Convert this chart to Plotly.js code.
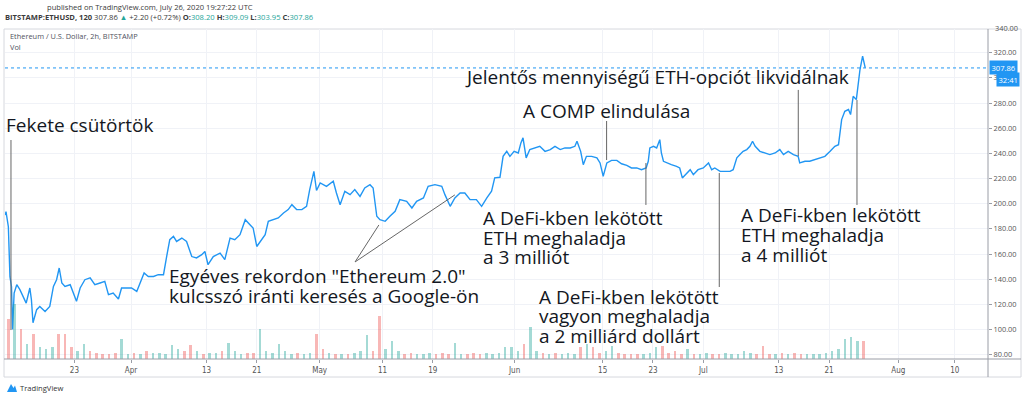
<!DOCTYPE html>
<html><head><meta charset="utf-8">
<script src="https://cdn.plot.ly/plotly-3.0.1.min.js"></script>
<style>html,body{margin:0;padding:0;background:#fff;overflow:hidden}#chart{width:1024px;height:398px}</style>
</head><body><div id="chart"></div>
<script>
// ---------- DATA ----------
const priceTime = [
'2020-03-12 00:00','2020-03-12 03:00','2020-03-12 12:00','2020-03-12 18:00','2020-03-13 00:00','2020-03-13 04:00','2020-03-13 10:00','2020-03-13 20:00',
'2020-03-14 08:00','2020-03-14 20:00','2020-03-15 08:00','2020-03-15 22:00','2020-03-16 04:00','2020-03-16 10:00','2020-03-17 00:00','2020-03-17 12:00',
'2020-03-18 08:00','2020-03-19 02:00','2020-03-19 16:00','2020-03-20 04:00','2020-03-20 14:00','2020-03-21 00:00','2020-03-21 12:00','2020-03-22 08:00',
'2020-03-22 20:00','2020-03-23 08:00','2020-03-23 22:00','2020-03-24 16:00','2020-03-25 12:00','2020-03-26 06:00','2020-03-27 02:00','2020-03-27 20:00',
'2020-03-28 10:00','2020-03-29 04:00','2020-03-30 00:00','2020-03-30 12:00','2020-03-31 08:00','2020-04-01 02:00','2020-04-01 22:00','2020-04-02 10:00',
'2020-04-03 02:00','2020-04-03 18:00','2020-04-04 14:00','2020-04-05 08:00','2020-04-06 04:00','2020-04-06 16:00','2020-04-07 04:00','2020-04-07 18:00',
'2020-04-08 06:00','2020-04-09 02:00','2020-04-09 20:00','2020-04-10 16:00','2020-04-11 10:00','2020-04-12 06:00','2020-04-12 18:00','2020-04-13 06:00',
'2020-04-14 02:00','2020-04-15 04:00','2020-04-15 22:00','2020-04-16 18:00','2020-04-17 12:00','2020-04-18 08:00','2020-04-19 04:00','2020-04-19 22:00',
'2020-04-20 10:00','2020-04-21 00:00','2020-04-21 18:00','2020-04-22 08:00','2020-04-22 20:00','2020-04-23 14:00','2020-04-24 10:00','2020-04-25 06:00',
'2020-04-26 00:00','2020-04-26 14:00','2020-04-27 08:00','2020-04-28 04:00','2020-04-28 22:00','2020-04-29 10:00','2020-04-30 02:00','2020-04-30 12:00',
'2020-05-01 02:00','2020-05-02 02:00','2020-05-03 04:00','2020-05-03 16:00','2020-05-04 06:00','2020-05-05 00:00','2020-05-05 20:00','2020-05-06 14:00',
'2020-05-07 10:00','2020-05-08 04:00','2020-05-09 00:00','2020-05-09 12:00','2020-05-10 02:00','2020-05-10 14:00','2020-05-11 10:00','2020-05-12 04:00',
'2020-05-13 00:00','2020-05-13 18:00','2020-05-14 20:00','2020-05-15 16:00','2020-05-16 10:00','2020-05-17 12:00','2020-05-18 06:00','2020-05-19 08:00',
'2020-05-20 10:00','2020-05-20 22:00','2020-05-21 18:00','2020-05-22 12:00','2020-05-23 08:00','2020-05-24 02:00','2020-05-24 22:00','2020-05-25 22:00',
'2020-05-26 18:00','2020-05-27 14:00','2020-05-28 08:00','2020-05-28 20:00','2020-05-29 16:00','2020-05-30 04:00','2020-05-30 18:00','2020-05-31 06:00',
'2020-05-31 22:00','2020-06-01 14:00','2020-06-02 00:00','2020-06-02 08:00','2020-06-02 20:00','2020-06-03 10:00','2020-06-04 06:00','2020-06-05 00:00',
'2020-06-05 20:00','2020-06-06 16:00','2020-06-07 10:00','2020-06-08 06:00','2020-06-09 00:00','2020-06-09 20:00','2020-06-10 14:00','2020-06-10 22:00',
'2020-06-11 12:00','2020-06-11 22:00','2020-06-12 10:00','2020-06-13 06:00','2020-06-14 02:00','2020-06-14 14:00','2020-06-15 02:00','2020-06-15 16:00',
'2020-06-16 10:00','2020-06-17 06:00','2020-06-18 00:00','2020-06-18 20:00','2020-06-19 14:00','2020-06-20 10:00','2020-06-21 04:00','2020-06-21 22:00',
'2020-06-22 06:00','2020-06-22 12:00','2020-06-23 02:00','2020-06-23 14:00','2020-06-24 02:00','2020-06-24 08:00','2020-06-24 16:00','2020-06-25 04:00',
'2020-06-25 22:00','2020-06-26 18:00','2020-06-27 06:00','2020-06-27 16:00','2020-06-28 08:00','2020-06-28 22:00','2020-06-29 10:00','2020-06-30 04:00',
'2020-07-01 00:00','2020-07-01 20:00','2020-07-02 08:00','2020-07-02 20:00','2020-07-03 16:00','2020-07-04 10:00','2020-07-05 06:00','2020-07-05 18:00',
'2020-07-06 08:00','2020-07-06 20:00','2020-07-07 08:00','2020-07-07 22:00','2020-07-08 10:00','2020-07-08 20:00','2020-07-09 06:00','2020-07-10 00:00',
'2020-07-10 20:00','2020-07-11 14:00','2020-07-12 10:00','2020-07-13 04:00','2020-07-13 18:00','2020-07-14 12:00','2020-07-15 08:00','2020-07-16 02:00',
'2020-07-16 08:00','2020-07-17 04:00','2020-07-17 22:00','2020-07-18 18:00','2020-07-19 14:00','2020-07-20 08:00','2020-07-21 04:00','2020-07-21 22:00',
'2020-07-22 12:00','2020-07-22 18:00','2020-07-23 00:00','2020-07-23 12:00','2020-07-24 02:00','2020-07-24 10:00','2020-07-24 20:00','2020-07-25 08:00',
'2020-07-25 16:00','2020-07-25 22:00','2020-07-26 08:00','2020-07-26 16:00','2020-07-26 18:00'];
const priceValue = [
191,193.7,181.7,142,134,100,129,135.6,
131.7,126,121,133,123.7,105.4,115.8,118.4,
114.4,118.4,134.3,139.6,148.9,137,134.3,135.6,
129,122.4,133,139.6,141,135.6,137,138.3,
127.7,129,124.3,133,133,133,130.3,137,
145,142.2,142.2,143.6,143.6,158,171.4,174,
170,172.7,170,158,156.9,159.5,162,151.5,
158,160.8,155.5,172.7,171.4,175.4,187.3,183.3,
180.7,166,171.4,175.4,186,187.3,188.7,192.6,
195.3,199.2,195.3,195.3,197.9,211.2,225.7,210.5,
216.5,213.8,217.8,208.5,199.2,209.8,207.2,211.2,
205.8,212.5,215.1,212.5,190,187.3,186,190,
194,203.2,201.9,196.6,201.9,204.6,213.8,215.1,
213.8,207.2,197.9,204.6,208.5,208.5,203.2,203.2,
197.9,204.6,210,220.5,221,237.6,241.6,237.6,
241.6,240.3,248.3,252.3,236.4,243,244.3,245.6,
241.6,243,245.6,243,244.3,244.3,245.6,249.6,
241.6,231,237.6,237.6,236.4,232.4,221.8,232.4,
234.4,234.4,231.7,230.4,228.4,228.4,227,228.4,
233.7,244.3,245.6,244.3,250.9,240.3,233.7,232.4,
231,229.7,228.4,220.5,224.4,227,223.1,227,
228.4,232.4,227,228.4,225.7,225.7,225.7,227,
236.4,239,241.6,243,245.6,249.6,245.6,241.6,
240.3,239,240.3,243,239,241.6,239,237.6,
232.4,233.7,233.7,235,236.4,237.6,241.6,245.6,
246.9,256.2,266.8,273.4,274.8,270.8,285.3,282.7,
298.6,306.6,317.2,310.5,307.86];
// daily volume (thousand ETH), starting 2020-03-12
const volumeStart = '2020-03-12';
const volumeValue = [
40,55,30,15,25,12,10,12,25,25,12,8,15,8,6,5,5,6,20,5,
6,5,8,6,6,5,14,10,8,14,8,5,6,6,8,16,8,5,6,6,
30,8,6,15,8,5,6,5,6,25,10,6,5,5,5,6,8,24,8,43,
10,18,8,5,6,5,5,6,5,6,5,16,5,5,6,5,6,5,6,12,
12,8,15,32,8,6,5,6,5,6,5,12,15,12,6,8,13,6,5,5,
5,5,6,12,13,6,8,5,10,5,5,6,5,5,6,5,5,8,6,5,
13,5,5,6,5,6,5,5,5,5,6,8,10,20,22,18,18];
const tickDates = ['2020-03-23','2020-04-01','2020-04-13','2020-04-21','2020-05-01','2020-05-11','2020-05-19','2020-06-01','2020-06-15','2020-06-23','2020-07-01','2020-07-13','2020-07-21','2020-08-01','2020-08-10'];
const tickText = ['23','Apr','13','21','May','11','19','Jun','15','23','Jul','13','21','Aug','10'];
const priceTicks = [80,100,120,140,160,180,200,220,240,260,280,300,320];
const lastPrice = 307.86;
const countdown = '32:41';
const headerPublished = 'published on TradingView.com, July 26, 2020 19:27:22 UTC';
const symbolTitle = 'Ethereum / U.S. Dollar, 2h, BITSTAMP';
const noteBlackThursday = ['Fekete csütörtök'];
const noteEth2 = ['Egyéves rekordon "Ethereum 2.0"', 'kulcsszó iránti keresés a Google-ön'];
const noteDefi3m = ['A DeFi-kben lekötött', 'ETH meghaladja', 'a 3 milliót'];
const noteComp = ['A COMP elindulása'];
const noteOptions = ['Jelentős mennyiségű ETH-opciót likvidálnak'];
const noteDefi2b = ['A DeFi-kben lekötött', 'vagyon meghaladja', 'a 2 milliárd dollárt'];
const noteDefi4m = ['A DeFi-kben lekötött', 'ETH meghaladja', 'a 4 milliót'];

// ---------- BUILD ----------
const DAY = 86400000;
const tMs = priceTime.map(s => Date.parse(s.replace(' ', 'T') + ':00Z'));
function priceAt(ms){
  if (ms <= tMs[0]) return priceValue[0];
  for (let i = 1; i < tMs.length; i++) {
    if (ms <= tMs[i]) { const f = (ms - tMs[i-1]) / (tMs[i] - tMs[i-1]); return priceValue[i-1] + f * (priceValue[i] - priceValue[i-1]); }
  }
  return priceValue[priceValue.length - 1];
}
const v0 = Date.parse(volumeStart + 'T00:00:00Z');
const volX = [], volC = [];
volumeValue.forEach((v, i) => {
  const a = v0 + i * DAY, b = Math.min(a + DAY, tMs[tMs.length-1]);
  volX.push(new Date(a + DAY/2).toISOString().slice(0,19).replace('T',' '));
  volC.push(priceAt(b) >= priceAt(a) ? 'rgba(38,166,154,0.42)' : 'rgba(239,83,80,0.42)');
});

const px = X => (X - 5) / 983, py = Y => (359 - Y) / 330;
const NOTE_FONT = {family: 'Open Sans, Noto Sans, sans-serif', size: 19, color: '#131722'};
const SMALL = 'Open Sans, Roboto, sans-serif';
const annotations = [];
function note(lines, date, prices){
  lines.forEach((t, i) => annotations.push({xref:'x', yref:'y', x: date, y: prices[i], text: t, showarrow:false, xanchor:'left', yanchor:'middle', font: NOTE_FONT, borderpad:0}));
}
note(noteBlackThursday, '2020-03-11 23:10', [262.5]);
note(noteEth2, '2020-04-06 21:00', [142.6, 126.6]);
note(noteDefi3m, '2020-05-26 21:00', [188.6, 173.1, 157.6]);
note(noteComp, '2020-06-02 04:00', [273.7]);
note(noteOptions, '2020-05-23 22:50', [300.7]);
note(noteDefi2b, '2020-06-04 17:20', [125.9, 110.4, 94.9]);
note(noteDefi4m, '2020-07-06 20:00', [191, 175.1, 159.6]);

annotations.push(
  {xref:'paper', yref:'paper', x: px(150), y: py(6.7), text: headerPublished, showarrow:false, xanchor:'center', yanchor:'middle', font:{family:SMALL, size:7.6, color:'#3b3b3b'}},
  {xref:'paper', yref:'paper', x: px(3), y: py(17.3), showarrow:false, xanchor:'left', yanchor:'middle', font:{family:SMALL, size:7.6, color:'#3b3b3b'},
   text: "<b>BITSTAMP:ETHUSD, 120</b> 307.86 <span style='color:#26a69a'>▲</span> +2.20 (+0.72%) <b>O:</b><span style='color:#26a69a'>308.20</span> <b>H:</b><span style='color:#26a69a'>309.09</span> <b>L:</b><span style='color:#26a69a'>303.95</span> <b>C:</b><span style='color:#26a69a'>307.86</span>"},
  {xref:'paper', yref:'paper', x: px(8), y: py(36), text: symbolTitle, showarrow:false, xanchor:'left', yanchor:'middle', font:{family:SMALL, size:7.4, color:'#50535e'}},
  {xref:'paper', yref:'paper', x: px(8), y: py(46.7), text: 'Vol', showarrow:false, xanchor:'left', yanchor:'middle', font:{family:SMALL, size:7.4, color:'#50535e'}},
  {xref:'paper', yref:'paper', x: px(993), y: py(28), text: '340.00', showarrow:false, xanchor:'left', yanchor:'middle', font:{family:SMALL, size:7.4, color:'#555'}},
  {xref:'paper', yref:'y', x: px(989), y: lastPrice, text: lastPrice.toFixed(2), showarrow:false, xanchor:'left', yanchor:'middle', bgcolor:'#2196f3', borderpad:1.5, font:{family:SMALL, size:7.6, color:'#fff'}},
  {xref:'paper', yref:'paper', x: px(996), y: py(79.5), text: countdown, showarrow:false, xanchor:'left', yanchor:'middle', bgcolor:'#2196f3', borderpad:1.5, font:{family:SMALL, size:7.6, color:'#fff'}},
  {xref:'paper', yref:'paper', x: px(18), y: py(388), text: 'TradingView', showarrow:false, xanchor:'left', yanchor:'middle', font:{family:SMALL, size:7.6, color:'#333'}}
);

const G = '#666';
const shapes = [
  {type:'rect', xref:'paper', yref:'paper', x0:px(4), x1:px(1021), y0:py(29), y1:py(377), line:{color:'#d6d8de', width:1}, layer:'below'},
  {type:'line', xref:'paper', yref:'paper', x0:px(988), x1:px(988), y0:py(29), y1:py(377), line:{color:'#9a9da6', width:1}},
  {type:'line', xref:'paper', yref:'paper', x0:px(4), x1:px(1021), y0:py(359), y1:py(359), line:{color:'#9a9da6', width:1}},
  {type:'line', xref:'paper', yref:'y', x0:0, x1:1, y0:lastPrice, y1:lastPrice, line:{color:'#2196f3', width:1, dash:'dot'}},
  {type:'line', xref:'x', yref:'y', x0:'2020-03-12 22:00', x1:'2020-03-12 22:00', y0:250.6, y1:99.6, line:{color:G, width:1}},
  {type:'line', xref:'x', yref:'y', x0:'2020-05-06 15:00', y0:153.7, x1:'2020-05-10 10:00', y1:183.1, line:{color:G, width:1}},
  {type:'line', xref:'x', yref:'y', x0:'2020-05-06 15:00', y0:153.7, x1:'2020-05-22 12:00', y1:207, line:{color:G, width:1}},
  {type:'line', xref:'x', yref:'y', x0:'2020-06-21 21:00', x1:'2020-06-21 21:00', y0:199, y1:232.3, line:{color:G, width:1}},
  {type:'line', xref:'x', yref:'y', x0:'2020-06-15 15:00', x1:'2020-06-15 15:00', y0:234.7, y1:265.7, line:{color:G, width:1}},
  {type:'line', xref:'x', yref:'y', x0:'2020-07-16 02:30', x1:'2020-07-16 02:30', y0:237.9, y1:290.4, line:{color:G, width:1}},
  {type:'line', xref:'x', yref:'y', x0:'2020-07-03 13:00', x1:'2020-07-03 13:00', y0:133.8, y1:224.4, line:{color:G, width:1}},
  {type:'line', xref:'x', yref:'y', x0:'2020-07-25 10:30', x1:'2020-07-25 10:30', y0:199, y1:282.4, line:{color:G, width:1}},
  {type:'path', xref:'paper', yref:'paper', path:`M ${px(7)} ${py(392)} L ${px(11)} ${py(384)} L ${px(13.5)} ${py(388)} L ${px(15)} ${py(385.5)} L ${px(17)} ${py(392)} Z`, fillcolor:'#2196f3', line:{width:0}}
];

const traces = [
  {type:'bar', x: volX, y: volumeValue, yaxis:'y2', marker:{color: volC, line:{width:0}}, width: DAY*0.4, hoverinfo:'skip'},
  {type:'scatter', mode:'lines', x: priceTime, y: priceValue, line:{color:'#2196f3', width:1.4}, hoverinfo:'skip'}
];

const layout = {
  width:1024, height:398, margin:{l:5, r:36, t:29, b:39},
  paper_bgcolor:'#fff', plot_bgcolor:'#fff', showlegend:false, bargap:0,
  font:{family:SMALL, size:7.6, color:'#555'},
  xaxis:{type:'date', range:['2020-03-11 23:10','2020-08-15 06:30'], tickvals: tickDates, ticktext: tickText,
         showgrid:true, gridcolor:'#f0f2f7', gridwidth:1, zeroline:false, showline:false,
         ticks:'outside', ticklen:3, tickcolor:'#9a9da6', tickfont:{family:'Liberation Sans Narrow, DejaVu Sans Condensed, Roboto, sans-serif', size:8, color:'#555'}},
  yaxis:{side:'right', range:[76.6, 338.8], tickvals: priceTicks, tickformat:'.2f', showgrid:true, gridcolor:'#f0f2f7',
         zeroline:false, showline:false, ticks:'outside', ticklen:3, tickcolor:'#9a9da6', tickfont:{family:SMALL, size:7.4, color:'#555'}},
  yaxis2:{overlaying:'y', range:[0, 330], visible:false, fixedrange:true},
  annotations, shapes
};
Plotly.newPlot('chart', traces, layout, {staticPlot:true, displayModeBar:false});
</script></body></html>
